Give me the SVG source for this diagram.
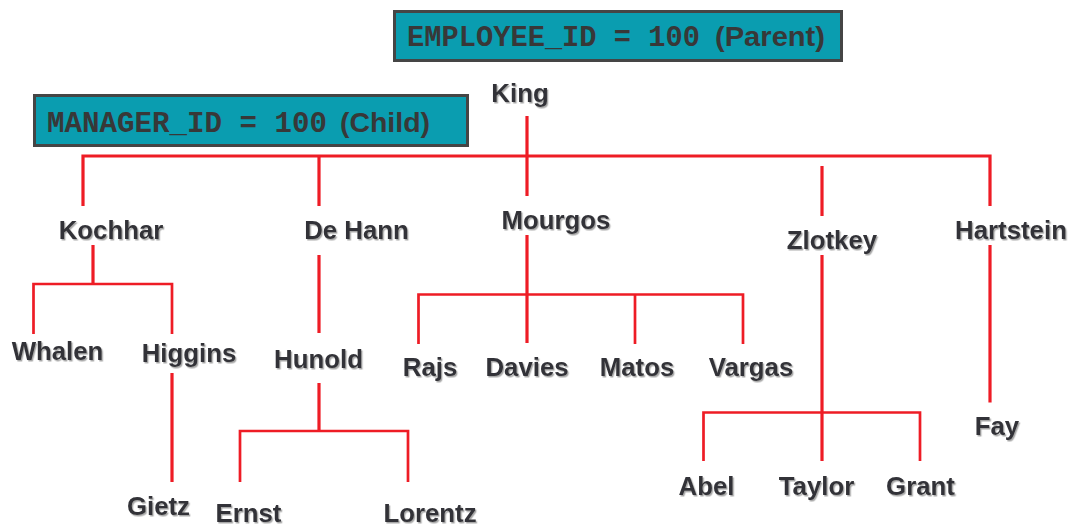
<svg xmlns="http://www.w3.org/2000/svg" width="1070" height="526" viewBox="0 0 1070 526">
  <defs>
    <filter id="soft-shadow" x="-10%" y="-20%" width="130%" height="150%">
      <feDropShadow dx="1.3" dy="1.5" stdDeviation="0.6" flood-color="#8a8a8a" flood-opacity="0.75"/>
    </filter>
    <style>
      .box { fill: #0a9db0; stroke: #454545; stroke-width: 3; }
      .mono { font-family: "Liberation Mono", "Courier New", monospace; font-weight: bold; font-size: 28.8px; fill: #383838; }
      .boxlbl { font-family: "Liberation Sans", Arial, Helvetica, sans-serif; font-weight: bold; font-size: 28px; fill: #383838; }
      .name { font-family: "Liberation Sans", Arial, Helvetica, sans-serif; font-weight: bold; font-size: 25.8px; fill: #333338; text-anchor: middle; filter: url(#soft-shadow); }
      .link { fill: none; stroke: #ee1c25; stroke-width: 3.2; stroke-linecap: butt; stroke-linejoin: miter; }
      .link.thin { stroke-width: 2.7; }
    </style>
  </defs>

  <rect width="1070" height="526" fill="#ffffff"/>

  <!-- condition boxes -->
  <g id="parent-condition">
    <rect class="box" x="394.5" y="11.5" width="447" height="49"/>
    <text class="mono" x="407" y="46" textLength="293" lengthAdjust="spacingAndGlyphs">EMPLOYEE_ID = 100</text>
    <text class="boxlbl" x="715" y="46" textLength="110" lengthAdjust="spacingAndGlyphs">(Parent)</text>
  </g>
  <g id="child-condition">
    <rect class="box" x="34.5" y="95.5" width="433" height="50"/>
    <text class="mono" x="47" y="131.5" textLength="280" lengthAdjust="spacingAndGlyphs">MANAGER_ID = 100</text>
    <text class="boxlbl" x="340" y="131.5" textLength="90" lengthAdjust="spacingAndGlyphs">(Child)</text>
  </g>

  <!-- reporting lines -->
  <g id="connectors">
    <path class="link" d="M527 116 V196"/>
    <path class="link" d="M83 206 V156 H990 V206"/>
    <path class="link" d="M319 156 V206"/>
    <path class="link" d="M822 166 V216"/>

    <path class="link" d="M93 245 V284"/>
    <path class="link thin" d="M33.5 334 V284 H172 V334"/>
    <path class="link" d="M172 373 V482"/>

    <path class="link" d="M319 255 V333"/>
    <path class="link" d="M319 383 V431"/>
    <path class="link thin" d="M240 482 V431 H408 V482"/>

    <path class="link" d="M527 235 V343"/>
    <path class="link thin" d="M418.5 344 V294.5 H743 V344"/>
    <path class="link thin" d="M635 294.5 V344"/>

    <path class="link" d="M822 255 V461"/>
    <path class="link thin" d="M703.5 461 V412.5 H920 V461"/>

    <path class="link" d="M990 245 V402.5"/>
  </g>

  <!-- employees -->
  <g id="king"><text class="name" x="520" y="101.5">King</text></g>
  <g id="kochhar"><text class="name" x="111" y="239">Kochhar</text></g>
  <g id="dehann"><text class="name" x="356.5" y="238.5">De Hann</text></g>
  <g id="mourgos"><text class="name" x="556" y="228.5">Mourgos</text></g>
  <g id="zlotkey"><text class="name" x="832" y="249">Zlotkey</text></g>
  <g id="hartstein"><text class="name" x="1011" y="239">Hartstein</text></g>
  <g id="whalen"><text class="name" x="57.5" y="360">Whalen</text></g>
  <g id="higgins"><text class="name" x="189" y="361.5">Higgins</text></g>
  <g id="hunold"><text class="name" x="318.5" y="367.5">Hunold</text></g>
  <g id="rajs"><text class="name" x="430" y="376">Rajs</text></g>
  <g id="davies"><text class="name" x="527" y="376">Davies</text></g>
  <g id="matos"><text class="name" x="637" y="376">Matos</text></g>
  <g id="vargas"><text class="name" x="751" y="376">Vargas</text></g>
  <g id="gietz"><text class="name" x="158.5" y="515">Gietz</text></g>
  <g id="ernst"><text class="name" x="248.5" y="522">Ernst</text></g>
  <g id="lorentz"><text class="name" x="430" y="522">Lorentz</text></g>
  <g id="abel"><text class="name" x="706.5" y="494.5">Abel</text></g>
  <g id="taylor"><text class="name" x="816.5" y="494.5">Taylor</text></g>
  <g id="grant"><text class="name" x="920.5" y="494.5">Grant</text></g>
  <g id="fay"><text class="name" x="997" y="435">Fay</text></g>
</svg>
